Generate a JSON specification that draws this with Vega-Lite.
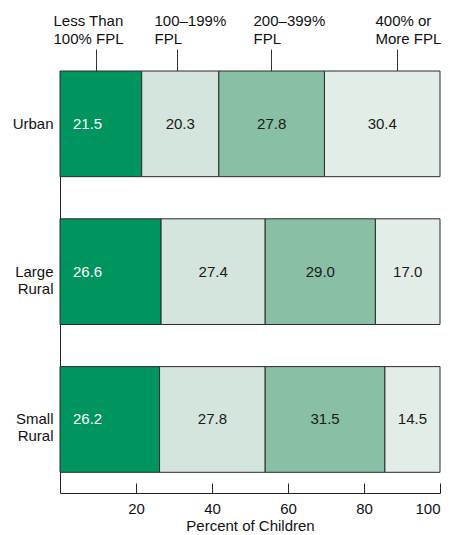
{
  "$schema": "https://vega.github.io/schema/vega-lite/v6.json",
  "width": 380,
  "height": 422,
  "autosize": {"type": "none"},
  "padding": {"left": 60, "top": 71, "right": 14, "bottom": 42},
  "config": {
    "font": "Liberation Sans",
    "view": {"stroke": null},
    "axis": {"labelFont": "Liberation Sans", "titleFont": "Liberation Sans", "labelColor": "#111", "titleColor": "#111", "grid": false}
  },
  "data": {
    "values": [
      {"area": "Urban", "income": "Less Than 100% FPL", "ord": 1, "pct": 21.5},
      {"area": "Urban", "income": "100–199% FPL", "ord": 2, "pct": 20.3},
      {"area": "Urban", "income": "200–399% FPL", "ord": 3, "pct": 27.8},
      {"area": "Urban", "income": "400% or More FPL", "ord": 4, "pct": 30.4},
      {"area": "Large Rural", "income": "Less Than 100% FPL", "ord": 1, "pct": 26.6},
      {"area": "Large Rural", "income": "100–199% FPL", "ord": 2, "pct": 27.4},
      {"area": "Large Rural", "income": "200–399% FPL", "ord": 3, "pct": 29.0},
      {"area": "Large Rural", "income": "400% or More FPL", "ord": 4, "pct": 17.0},
      {"area": "Small Rural", "income": "Less Than 100% FPL", "ord": 1, "pct": 26.2},
      {"area": "Small Rural", "income": "100–199% FPL", "ord": 2, "pct": 27.8},
      {"area": "Small Rural", "income": "200–399% FPL", "ord": 3, "pct": 31.5},
      {"area": "Small Rural", "income": "400% or More FPL", "ord": 4, "pct": 14.5}
    ]
  },
  "transform": [
    {"stack": "pct", "groupby": ["area"], "sort": [{"field": "ord", "order": "ascending"}], "as": ["x0", "x1"]}
  ],
  "encoding": {
    "y": {
      "field": "area",
      "type": "nominal",
      "sort": ["Urban", "Large Rural", "Small Rural"],
      "scale": {"paddingInner": 0.285, "paddingOuter": 0.07, "align": 0},
      "axis": {
        "title": null,
        "ticks": false,
        "domain": true,
        "domainColor": "#222",
        "labelAlign": "right",
        "labelBaseline": "middle",
        "labelPadding": 7,
        "labelFontSize": 15,
        "labelLineHeight": 17,
        "labelExpr": "split(datum.label, ' ')"
      }
    }
  },
  "layer": [
    {
      "mark": {"type": "bar", "stroke": "#2a2a2a", "strokeWidth": 1},
      "encoding": {
        "x": {
          "field": "x0",
          "type": "quantitative",
          "scale": {"domain": [0, 100], "nice": false, "zero": true},
          "axis": {
            "orient": "bottom",
            "values": [20, 40, 60, 80, 100],
            "title": "Percent of Children",
            "titleFontSize": 15,
            "titleFontWeight": "normal",
            "titlePadding": 2,
            "labelFontSize": 15,
            "labelPadding": 18,
            "tickSize": -10,
            "tickColor": "#222",
            "domainColor": "#222"
          }
        },
        "x2": {"field": "x1"},
        "color": {
          "field": "income",
          "type": "nominal",
          "scale": {
            "domain": ["Less Than 100% FPL", "100–199% FPL", "200–399% FPL", "400% or More FPL"],
            "range": ["#00945E", "#D4E5DD", "#88BFA5", "#E3EDE7"]
          },
          "legend": null
        }
      }
    },
    {
      "transform": [{"filter": "datum.ord == 1"}],
      "mark": {"type": "text", "align": "left", "baseline": "middle", "dx": 13, "fontSize": 15, "color": "white"},
      "encoding": {
        "x": {"field": "x0", "type": "quantitative", "axis": null},
        "text": {"field": "pct", "type": "quantitative", "format": ".1f"}
      }
    },
    {
      "transform": [
        {"filter": "datum.ord > 1"},
        {"fold": ["x0", "x1"], "as": ["edge", "xe"]}
      ],
      "mark": {"type": "text", "align": "center", "baseline": "middle", "fontSize": 15, "color": "#1a1a1a"},
      "encoding": {
        "x": {
          "aggregate": "mean",
          "field": "xe",
          "type": "quantitative",
          "axis": {
            "orient": "top",
            "title": null,
            "domain": false,
            "values": [9.47, 30.79, 55.53, 88.68],
            "tickSize": 22,
            "tickColor": "#333",
            "labelFontSize": 15,
            "labelAlign": "left",
            "labelBaseline": "bottom",
            "labelPadding": 21,
            "labelLineHeight": 18,
            "labelOffset": {
              "condition": [
                {"test": "datum.value < 20", "value": -43},
                {"test": "datum.value < 40", "value": -23},
                {"test": "datum.value < 70", "value": -18}
              ],
              "value": -22
            },
            "labelExpr": "datum.value < 20 ? ['Less Than', '100% FPL'] : datum.value < 40 ? ['100–199%', 'FPL'] : datum.value < 70 ? ['200–399%', 'FPL'] : ['400% or', 'More FPL']"
          }
        },
        "text": {"field": "pct", "type": "quantitative", "format": ".1f"}
      }
    }
  ],
  "resolve": {"axis": {"x": "independent"}}
}
